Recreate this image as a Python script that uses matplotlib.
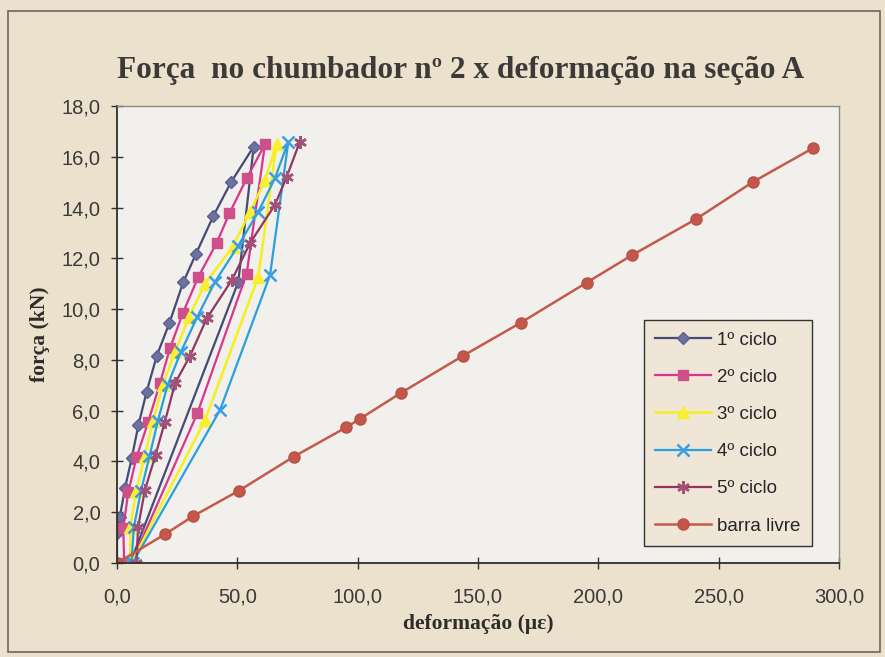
import matplotlib.pyplot as plt
import matplotlib.patches as patches
from matplotlib.ticker import MultipleLocator, FuncFormatter

# dados (deformação em micro-strain, força em kN)
c1_def = [0.0, 0.0, 1.2, 3.3, 6.1, 8.9, 12.3, 16.5, 21.8, 27.5, 32.8, 40.0, 47.4, 56.8, 50.4, 5.5]
c1_forca = [0.0, 1.17, 1.82, 2.94, 4.12, 5.43, 6.74, 8.15, 9.46, 11.05, 12.17, 13.66, 15.0, 16.4, 11.07, 0.0]

c2_def = [3.0, 2.6, 4.7, 8.2, 13.0, 17.9, 22.0, 27.3, 33.8, 41.4, 46.7, 53.9, 61.5, 53.9, 33.4, 6.0]
c2_forca = [0.0, 1.37, 2.8, 4.19, 5.56, 7.1, 8.45, 9.83, 11.27, 12.6, 13.77, 15.15, 16.5, 11.4, 5.9, 0.0]

c3_def = [5.5, 5.5, 8.0, 11.5, 15.0, 19.0, 24.0, 30.0, 36.6, 48.0, 55.3, 61.5, 66.3, 58.7, 36.6, 6.0]
c3_forca = [0.0, 1.4, 2.85, 4.2, 5.6, 7.0, 8.3, 9.7, 11.0, 12.45, 13.83, 15.08, 16.5, 11.27, 5.63, 0.0]

c4_def = [6.0, 7.0, 10.0, 13.5, 17.0, 21.0, 26.5, 33.4, 40.7, 50.4, 58.7, 65.6, 71.2, 63.6, 42.8, 6.5]
c4_forca = [0.0, 1.4, 2.85, 4.2, 5.6, 7.0, 8.3, 9.7, 11.07, 12.5, 13.83, 15.15, 16.6, 11.34, 6.02, 0.0]

c5_def = [8.0, 8.8, 11.6, 16.0, 19.9, 24.1, 30.3, 37.3, 47.7, 55.3, 65.6, 70.5, 76.0]
c5_forca = [0.0, 1.43, 2.87, 4.25, 5.56, 7.07, 8.15, 9.63, 11.14, 12.6, 14.1, 15.2, 16.6]

barra_def = [0.0, 19.9, 31.7, 50.7, 73.5, 95.2, 101.0, 118.0, 143.6, 167.7, 195.1, 214.1, 240.5, 264.3, 289.0]
barra_forca = [0.0, 1.13, 1.85, 2.85, 4.19, 5.34, 5.68, 6.70, 8.15, 9.46, 11.04, 12.13, 13.54, 15.01, 16.33]

fundo = '#ece1cc'
fig = plt.figure(figsize=(8.85, 6.57), dpi=100, facecolor=fundo)
ax = fig.add_axes([0.1322, 0.1431, 0.8158, 0.6956])
ax.set_facecolor('#f1f0ec')

# moldura externa do gráfico
fig.patches.append(patches.Rectangle((8 / 885, 5 / 657), 872 / 885, 641 / 657,
                                     transform=fig.transFigure, fill=False,
                                     edgecolor='#6a6660', linewidth=1.2))

ax.plot(c1_def, c1_forca, color='#454a78', marker='D', markersize=6.5,
        markerfacecolor='#6d719e', markeredgecolor='#5c6090', lw=1.6, label='1º ciclo')
ax.plot(c2_def, c2_forca, color='#d8358e', marker='s', markersize=7,
        markerfacecolor='#cf4f8a', markeredgecolor='#cf4f8a', lw=1.6, label='2º ciclo')
ax.plot(c3_def, c3_forca, color='#f4ef1e', marker='^', markersize=8,
        markerfacecolor='#f6f030', markeredgecolor='#f6f030', lw=1.8, label='3º ciclo')
ax.plot(c4_def, c4_forca, color='#2a9fdc', marker='x', markersize=8, mew=1.8,
        markeredgecolor='#3a9ee0', lw=1.6, label='4º ciclo')
ax.plot(c5_def, c5_forca, color='#93365f', marker=(6, 2, 0), markersize=9, mew=1.8,
        markeredgecolor='#a05278', lw=1.6, label='5º ciclo')
ax.plot(barra_def, barra_forca, color='#c45a4c', marker='o', markersize=8,
        markerfacecolor='#c4564c', markeredgecolor='#b85046', lw=1.8, label='barra livre')

ax.set_xlim(0, 300)
ax.set_ylim(0, 18)
ax.xaxis.set_major_locator(MultipleLocator(50))
ax.yaxis.set_major_locator(MultipleLocator(2))
virgula = FuncFormatter(lambda v, p: f'{v:.1f}'.replace('.', ','))
ax.xaxis.set_major_formatter(virgula)
ax.yaxis.set_major_formatter(virgula)
ax.tick_params(direction='inout', length=8, width=1, colors='#333333',
               labelsize=14.5, labelcolor='#3a3a3a', pad=8)
ax.tick_params(axis='x', pad=14)
for t in ax.get_xticklabels() + ax.get_yticklabels():
    t.set_fontfamily('Liberation Sans')

for lado in ['left', 'bottom']:
    ax.spines[lado].set_color('#2e2e2e')
    ax.spines[lado].set_linewidth(1.3)
for lado in ['top', 'right']:
    ax.spines[lado].set_color('#8a8a8a')
    ax.spines[lado].set_linewidth(1.0)

fig.text(0.52, 0.893, 'Força  no chumbador nº 2 x deformação na seção A',
         ha='center', va='center', fontsize=22.5, fontweight='bold',
         family='Liberation Serif', color='#3c3a38')
ax.set_xlabel('deformação (με)', fontsize=15.5, fontweight='bold',
              family='Liberation Serif', color='#2e2c2a', labelpad=5)
ax.set_ylabel('força (kN)', fontsize=15.5, fontweight='bold',
              family='Liberation Serif', color='#2e2c2a', labelpad=8)

leg = ax.legend(loc='lower right', bbox_to_anchor=(0.975, 0.017),
                prop={'family': 'Liberation Sans', 'size': 13.5},
                frameon=True, fancybox=False, handlelength=3.0,
                labelspacing=1.07, borderpad=0.6, handletextpad=0.3)
leg.get_frame().set_facecolor('#efe6d8')
leg.get_frame().set_edgecolor('#333333')
leg.get_frame().set_alpha(1)
for t in leg.get_texts():
    t.set_color('#262626')

plt.savefig('out.png', dpi=100, facecolor=fundo)
